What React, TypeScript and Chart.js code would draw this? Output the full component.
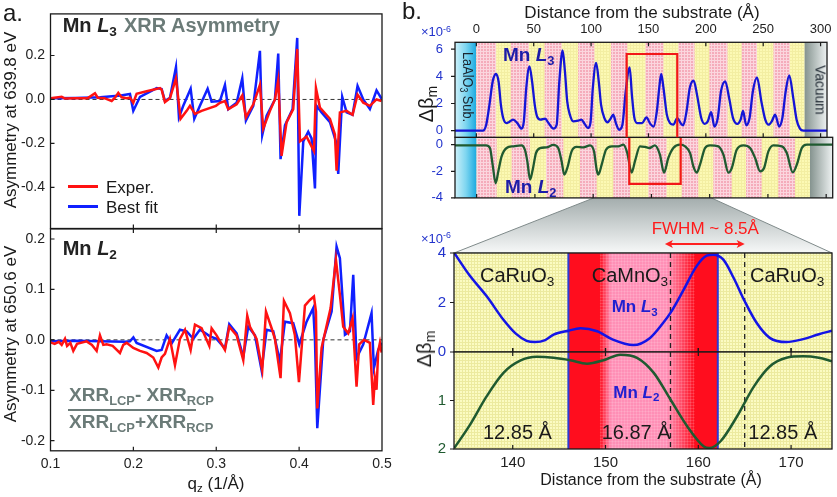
import React, { useEffect, useRef } from "react";
import { Chart, registerables } from "chart.js";

Chart.register(...registerables);

const W = 837;
const H = 497;
const FONT = '"Liberation Sans", Arial, Helvetica, sans-serif';
Chart.defaults.font.family = FONT;

// ---------------- Panel a : XRR asymmetry ----------------
const qTicks = [0.1, 0.2, 0.3, 0.4, 0.5];
const asymL3Ticks = [0.2, 0.0, -0.2, -0.4];
const asymL2Ticks = [0.2, 0.1, 0.0, -0.1, -0.2];

const qL3Exp = [0.1002,0.1135,0.1175,0.13,0.145,0.1537,0.157,0.165,0.1738,0.1778,0.1818,0.1858,0.1919,0.1959,0.1999,0.2039,0.216,0.2321,0.2341,0.2381,0.2441,0.2514,0.257,0.2643,0.2683,0.2743,0.2823,0.2996,0.3045,0.3105,0.3145,0.3246,0.3314,0.3358,0.3447,0.3527,0.3567,0.3648,0.3708,0.3748,0.3788,0.3849,0.3929,0.3977,0.401,0.409,0.4179,0.4203,0.4251,0.4372,0.4432,0.4452,0.4492,0.4573,0.4645,0.4705,0.4774,0.4854,0.4934,0.4995];
const asymL3Exp = [0.005,0.012,0.004,0.006,0.006,0.028,0.008,0.006,-0.007,0.008,0.03,0.01,0.006,0.008,-0.015,0.026,0.037,0.052,0.045,-0.012,0.005,0.096,-0.088,-0.052,-0.029,-0.066,-0.052,-0.029,-0.015,-0.007,-0.044,-0.022,0.018,-0.081,-0.022,0.066,-0.133,-0.052,0.0,0.088,-0.257,-0.103,-0.044,0.23,-0.191,-0.169,-0.235,0.052,-0.037,-0.088,-0.16,-0.324,-0.059,-0.052,-0.07,0.022,-0.015,-0.029,0.0,-0.007];

const qL3Fit = [0.1002,0.13,0.16,0.185,0.1959,0.1999,0.208,0.2281,0.2341,0.2381,0.2441,0.2514,0.255,0.2602,0.2691,0.2735,0.2803,0.2896,0.2944,0.3045,0.3105,0.3145,0.3246,0.3314,0.3358,0.3447,0.3527,0.3555,0.3608,0.3708,0.3748,0.3776,0.3829,0.3921,0.3977,0.4002,0.405,0.411,0.415,0.4191,0.4211,0.4271,0.4372,0.4444,0.4472,0.452,0.4573,0.4645,0.4705,0.4774,0.4854,0.4934,0.4995];
const asymL3Fit = [0.005,0.007,0.01,0.018,0.025,-0.052,0.012,0.052,0.047,-0.007,0.007,0.147,-0.081,-0.029,0.049,-0.088,-0.029,0.049,-0.01,-0.007,0.066,-0.044,-0.015,0.096,-0.096,-0.029,0.221,-0.162,-0.074,0.0,0.209,-0.272,-0.118,-0.044,0.28,-0.53,-0.191,-0.147,-0.177,-0.405,-0.029,-0.059,-0.103,-0.191,-0.339,0.012,-0.059,-0.07,0.062,0.0,-0.044,0.041,0.003];

const qL2Exp = [0.1002,0.105,0.11,0.1135,0.1175,0.12,0.124,0.1275,0.132,0.1436,0.15,0.1557,0.1597,0.1637,0.1677,0.175,0.1838,0.1878,0.1919,0.1999,0.208,0.216,0.224,0.2301,0.2341,0.2381,0.2441,0.2502,0.2562,0.2623,0.2691,0.2743,0.2823,0.2916,0.2944,0.3004,0.3105,0.3157,0.3246,0.3326,0.3374,0.3407,0.3487,0.3555,0.36,0.3668,0.3708,0.3776,0.3817,0.3889,0.3949,0.3998,0.407,0.413,0.4179,0.4203,0.4219,0.4271,0.438,0.4444,0.4492,0.4532,0.4593,0.4645,0.4693,0.4725,0.4782,0.4854,0.4894,0.4914,0.4934,0.4954,0.4975,0.4995];
const asymL2Exp = [-0.005,-0.008,-0.004,-0.01,0.002,-0.012,-0.006,-0.022,-0.008,-0.003,-0.01,-0.022,0.009,-0.01,-0.009,-0.012,-0.026,-0.01,-0.006,-0.016,-0.022,-0.026,-0.035,-0.055,-0.035,-0.028,0.002,-0.05,0.002,0.02,-0.02,0.03,0.023,-0.012,0.023,0.009,-0.02,0.026,0.009,-0.04,0.048,0.026,0.002,-0.06,0.056,0.023,0.002,-0.076,0.077,0.053,0.009,-0.084,0.068,0.079,0.086,0.056,-0.136,-0.016,0.063,0.159,0.089,0.026,0.013,0.043,-0.093,-0.009,0.0,-0.006,-0.129,-0.076,-0.099,-0.023,-0.006,-0.025];

const qL2Fit = [0.1002,0.13,0.16,0.19,0.1959,0.2,0.2039,0.2281,0.2341,0.2401,0.2462,0.2562,0.2643,0.2723,0.2803,0.288,0.2924,0.3004,0.3105,0.3157,0.3246,0.3326,0.3386,0.3467,0.3547,0.3608,0.3688,0.3768,0.3829,0.3929,0.4002,0.409,0.417,0.4191,0.4219,0.4291,0.4392,0.4452,0.4492,0.4553,0.4613,0.4653,0.4693,0.4774,0.4874,0.4902,0.4954,0.4995];
const asymL2Fit = [-0.003,-0.002,-0.003,-0.004,-0.003,0.005,-0.006,-0.022,-0.02,0.009,-0.007,0.02,0.017,0.002,0.02,0.012,0.007,0.002,-0.017,0.031,0.013,-0.033,0.026,0.009,-0.06,0.02,0.017,-0.043,0.036,0.033,-0.009,0.036,0.063,0.0,-0.175,0.0,0.056,0.185,0.162,0.01,0.017,0.129,-0.036,-0.009,0.053,-0.056,-0.02,-0.006];

// ---------------- Panel b (top) : full depth profile ----------------
const depthTicks = [0, 50, 100, 150, 200, 250, 300];
const betaL3Ticks = [0, 2, 4, 6];
const betaL2Ticks = [0, -2, -4];

const depthL3 = [-18.6,0,5.7,8.6,11.4,14.2,17.1,19.4,21.4,23.4,26.3,28.6,32,35.7,39.4,41.4,43.5,46.3,48.6,50.9,52.9,55.8,60,62.9,67.2,70,72.3,75.2,77.2,79.2,81.5,84.4,88.7,91.5,94.4,97.3,99.5,101.5,104.4,106.7,108.7,111.6,114.4,117.3,119.3,121.6,124.4,127.3,130.2,133.6,135.6,137.6,140.2,144.5,148.2,151.6,154.5,157.3,159.4,161.1,163.1,166,168.8,171.7,175.1,178,180.3,183.2,186,189.4,192.3,196,199,201.7,204.6,207.5,210.4,213.2,216.9,220.3,223.7,227.5,230.3,232.4,235.2,238.1,241,244.6,248.4,251.8,254.7,257.5,260.4,263.9,266.7,269.6,272.7,276.2,279.1,282,284.9,305.6];
const betaL3 = [0,0,0,0.44,1.9,3.6,4.17,3.6,1.9,0.93,0.56,0.64,0.81,0.56,0.15,0.69,3.14,4.73,3.6,1.9,1.05,0.81,0.88,0.56,0.15,0.44,3.6,5.9,4.36,2.15,1.18,0.69,0.74,0.81,0.5,0.2,0.6,3.14,4.98,3.6,1.9,0.93,0.62,0.93,1.18,0.56,0.07,0.44,2.9,4.66,2.6,1.0,0.56,0.56,0.98,0.5,0.3,1.43,3.14,4.17,3.14,1.18,0.56,0.44,0.93,0.56,0.4,1.43,3.14,3.68,2.65,0.93,0.5,0.69,1.37,0.31,0.93,2.9,3.63,2.4,0.93,0.5,0.81,1.45,0.4,0.93,2.9,3.92,2.15,0.81,0.44,0.69,1.18,0.31,0.93,2.9,4.07,2.4,0.81,0.15,0,0];

const depthL2 = [-18.6,8,11.4,13.7,16.3,18.6,21.4,25.7,31.4,38.6,41.4,43.5,45.8,48.1,50.9,54.4,60,65.7,70,72.9,75.2,77.8,81.5,85.8,91.5,97.3,100.7,103,104.4,107.3,111,115.9,121.6,125.9,129.3,133,136,140.2,144.5,148.2,153,157.3,160.8,164.5,168.8,174.5,178.9,183.2,186,188.9,191.7,196,200.3,207.5,211.8,216.1,219,223.2,229,234.7,239,243.3,246.7,250.4,254.7,261.9,266.2,271.3,274.8,279.1,283.4,305.6];
const betaL2 = [-0.05,-0.05,-0.25,-1.5,-2.9,-2.0,-0.88,-0.25,-0.12,-0.05,-0.38,-1.25,-2.63,-1.88,-0.63,-0.25,-0.2,-0.02,-0.25,-1.25,-2.25,-1.75,-0.5,-0.17,-0.2,-0.05,-0.5,-1.88,-2.25,-1.5,-0.38,-0.12,-0.12,0,-0.63,-2.1,-1.2,-0.12,-0.17,-0.25,-0.05,-0.75,-2.1,-1.0,-0.25,0,-0.12,-0.63,-1.63,-2.1,-1.5,-0.25,-0.05,-0.12,-0.75,-2.1,-1.75,-0.38,-0.05,-0.25,-1.0,-2.0,-1.75,-0.5,-0.05,-0.12,-0.63,-2.08,-1.5,-0.25,0,0];

// layer boundaries (Å)
const cmoStart = [0, 30.0, 59.5, 88.7, 117.3, 147.3, 176.0, 203.1, 231.2, 258.9];
const cmoEnd = [17.2, 45.8, 74.4, 103.0, 131.6, 163.1, 190.2, 218.9, 244.6, 273.2];
const filmTop = 286.1;
const depthRange = [-18.6, 305.6];
const zoomWindow = [131.0, 175.1];
const zoomWindowL3Top = 5.64;
const zoomWindowL2Bottom = -2.95;

// ---------------- Panel b (bottom) : zoom ----------------
const zoomDepthTicks = [140, 150, 160, 170];
const zoomL3Ticks = [0, 2, 4];
const zoomL2Ticks = [1, 2];
const zoomRange = [133.67, 174.41];

const zDepthL3 = [133.7,135.3,137.2,139.0,140.3,141.5,142.4,143.5,144.4,146.0,147.3,149.1,150.8,153.0,154.8,156.2,157.0,158.4,159.8,160.9,161.6,162.7,163.8,165.0,166.3,167.7,169.5,171.3,173.0,174.4];
const zBetaL3 = [4.0,3.12,2.25,1.3,0.75,0.45,0.4,0.48,0.7,0.86,0.96,0.84,0.5,0.28,0.57,1.17,1.58,2.5,3.46,3.89,3.93,3.73,3.0,2.05,1.17,0.57,0.4,0.52,0.72,0.86];
const zDepthL2 = [133.7,135.3,137.2,139.0,140.8,142.6,144.4,146.2,148.0,149.8,151.6,153.4,155.2,157.0,158.8,160.6,161.2,162.4,164.2,166.0,167.7,169.5,171.3,173.0,174.4];
const zBetaL2 = [1.98,1.53,0.91,0.43,0.18,0.10,0.12,0.17,0.24,0.17,0.055,0.12,0.43,0.98,1.53,1.95,1.98,1.84,1.32,0.71,0.30,0.12,0.09,0.12,0.19];

const zCmo = [146.0, 162.1];
const zCmoRed = [149.4, 159.6];
const zCmoPink = [150.6, 156.6];
const fwhmMarks = [157.0, 165.0];
const fwhmArrow = [156.4, 165.0];

// ---------------- helpers ----------------
const pts = (xs: number[], ys: number[]) => xs.map((x, i) => ({ x, y: ys[i] }));

type Edge = { edge: "top" | "bottom"; dir: "in" | "out" | "both" };
type FrameOpt = { xTicks: number[]; xEdges: Edge[]; yTicks: number[]; yDir: "in" | "out"; len: number; lw?: number };

function drawFrame(chart: any, o: FrameOpt) {
  const { ctx, chartArea: a, scales } = chart;
  const x = scales.x, y = scales.y;
  ctx.save();
  ctx.strokeStyle = "#1a1a1a";
  ctx.lineWidth = o.lw ?? 1.3;
  ctx.strokeRect(a.left, a.top, a.right - a.left, a.bottom - a.top);
  ctx.lineWidth = 1.2;
  ctx.beginPath();
  for (const v of o.xTicks) {
    const px = x.getPixelForValue(v);
    for (const e of o.xEdges) {
      const y0 = e.edge === "top" ? a.top : a.bottom;
      const inward = e.edge === "top" ? 1 : -1;
      const from = e.dir === "in" ? y0 : y0 - inward * o.len;
      const to = e.dir === "out" ? y0 : y0 + inward * o.len;
      ctx.moveTo(px, from);
      ctx.lineTo(px, to);
    }
  }
  for (const v of o.yTicks) {
    const py = y.getPixelForValue(v);
    ctx.moveTo(a.left, py);
    ctx.lineTo(a.left + (o.yDir === "in" ? o.len : -o.len), py);
  }
  ctx.stroke();
  ctx.restore();
}

function patternCanvas(base: string, line: string, step = 3) {
  const c = document.createElement("canvas");
  c.width = step;
  c.height = step;
  const g = c.getContext("2d")!;
  g.fillStyle = base;
  g.fillRect(0, 0, step, step);
  g.fillStyle = line;
  g.fillRect(0, 0, step, 1);
  g.fillRect(0, 0, 1, step);
  return c;
}

type AxisCfg = {
  min: number; max: number; ticks: number[]; labels?: boolean; font?: number; color?: string;
  pad?: number; fmt?: (v: number) => string; reverse?: boolean;
};
type Cfg = {
  area: { l: number; t: number; r: number; b: number };
  x: AxisCfg & { pos: "top" | "bottom"; size: number };
  y: AxisCfg;
  datasets: any[];
  plugins: any[];
};

function build(canvas: HTMLCanvasElement, c: Cfg) {
  const xTop = c.x.pos === "top";
  const setTicks = (vals: number[]) => (s: any) => {
    s.ticks = vals.map((v) => ({ value: v }));
  };
  const tickOpts = (a: AxisCfg, dflt: number) => ({
    display: !!a.labels,
    font: { size: a.font ?? dflt, family: FONT },
    color: a.color ?? "#222",
    padding: a.pad ?? 5,
    maxRotation: 0,
    autoSkip: false,
    callback: (v: any) => (a.fmt ? a.fmt(Number(v)) : String(v)),
  });
  return new Chart(canvas, {
    type: "line",
    data: { datasets: c.datasets },
    options: {
      animation: false,
      responsive: false,
      maintainAspectRatio: false,
      events: [],
      layout: {
        padding: {
          left: 0,
          right: W - c.area.r,
          top: xTop ? 0 : c.area.t,
          bottom: xTop ? H - c.area.b : H - c.area.b - c.x.size,
        },
      },
      plugins: { legend: { display: false }, tooltip: { enabled: false } },
      scales: {
        x: {
          type: "linear",
          position: c.x.pos,
          min: c.x.min,
          max: c.x.max,
          bounds: "data",
          grid: { display: false, drawTicks: false },
          border: { display: false },
          ticks: tickOpts(c.x, 14),
          afterBuildTicks: setTicks(c.x.ticks),
          afterFit: (s: any) => {
            s.height = xTop ? c.area.t : c.x.size;
          },
        },
        y: {
          type: "linear",
          position: "left",
          min: c.y.min,
          max: c.y.max,
          reverse: !!c.y.reverse,
          bounds: "data",
          grid: { display: false, drawTicks: false },
          border: { display: false },
          ticks: tickOpts(c.y, 14),
          afterBuildTicks: setTicks(c.y.ticks),
          afterFit: (s: any) => {
            s.width = c.area.l;
          },
        },
      },
    } as any,
    plugins: c.plugins,
  });
}

const line = (data: any[], color: string, width: number, smooth = false, extra: any = {}) => ({
  data,
  borderColor: color,
  borderWidth: width,
  pointRadius: 0,
  fill: false,
  tension: smooth ? 0.4 : 0,
  cubicInterpolationMode: smooth ? "monotone" : "default",
  ...extra,
});

// ---------------- text helpers ----------------
const Sub = ({ children, s = 0.68 }: any) => (
  <span style={{ fontSize: `${s}em`, position: "relative", top: "0.3em" }}>{children}</span>
);
const Sup = ({ children, s = 0.68 }: any) => (
  <span style={{ fontSize: `${s}em`, position: "relative", top: "-0.5em" }}>{children}</span>
);
const Txt = ({ x, y, size, children, bold, color, anchor, style }: any) => (
  <div
    style={{
      position: "absolute",
      left: x,
      top: y - 0.846 * size,
      fontSize: size,
      lineHeight: `${size}px`,
      fontFamily: FONT,
      fontWeight: bold ? 700 : 400,
      color: color ?? "#1a1a1a",
      whiteSpace: "nowrap",
      transform: anchor === "middle" ? "translateX(-50%)" : undefined,
      ...style,
    }}
  >
    {children}
  </div>
);
const Rot = ({ cx, cy, size, angle, children, color, scaleX = 1, bold }: any) => (
  <div
    style={{
      position: "absolute",
      left: cx,
      top: cy,
      fontSize: size,
      lineHeight: `${size}px`,
      fontFamily: FONT,
      fontWeight: bold ? 700 : 400,
      color: color ?? "#1a1a1a",
      whiteSpace: "nowrap",
      transform: `translate(-50%,-50%) rotate(${angle}deg) scaleX(${scaleX})`,
    }}
  >
    {children}
  </div>
);

const GRAY = "#6b7b78";
const BLUE_TXT = "#1c1ca8";
const TICK_BLUE = "#2233cc";
const GREEN = "#1f5a30";
const RED = "#ff1212";
const BLUE = "#1020ff";

export default function App() {
  const a1 = useRef<HTMLCanvasElement>(null);
  const a2 = useRef<HTMLCanvasElement>(null);
  const b1a = useRef<HTMLCanvasElement>(null);
  const b1b = useRef<HTMLCanvasElement>(null);
  const b2a = useRef<HTMLCanvasElement>(null);
  const b2b = useRef<HTMLCanvasElement>(null);

  useEffect(() => {
    const charts: Chart[] = [];
    const fmt1 = (v: number) => v.toFixed(1);
    const zeroLine = (xs: number[]) =>
      line([{ x: xs[0], y: 0 }, { x: xs[xs.length - 1], y: 0 }], "#333", 1, false, { borderDash: [4, 3] });

    // ---- panel a top ----
    charts.push(
      build(a1.current!, {
        area: { l: 50.5, t: 7, r: 382, b: 228.5 },
        x: { pos: "bottom", size: 0, min: 0.1, max: 0.5, ticks: qTicks },
        y: { min: -0.5876, max: 0.3895, ticks: asymL3Ticks, labels: true, font: 14, pad: 5.5, fmt: fmt1 },
        datasets: [
          line(pts(qL3Exp, asymL3Exp), RED, 2.5),
          line(pts(qL3Fit, asymL3Fit), BLUE, 2.5),
          zeroLine(qTicks),
        ],
        plugins: [
          {
            id: "frameA1",
            afterDraw: (ch: any) =>
              drawFrame(ch, { xTicks: [0.2, 0.3, 0.4], xEdges: [{ edge: "bottom", dir: "in" }], yTicks: asymL3Ticks, yDir: "in", len: 4 }),
          },
        ],
      })
    );

    // ---- panel a bottom ----
    charts.push(
      build(a2.current!, {
        area: { l: 50.5, t: 228.9, r: 382, b: 450.8 },
        x: { pos: "bottom", size: 24, min: 0.1, max: 0.5, ticks: qTicks, labels: true, font: 14, pad: 5, fmt: fmt1 },
        y: { min: -0.22, max: 0.22, ticks: asymL2Ticks, labels: true, font: 14, pad: 5.5, fmt: fmt1 },
        datasets: [
          line(pts(qL2Exp, asymL2Exp), RED, 2.5),
          line(pts(qL2Fit, asymL2Fit), BLUE, 2.5),
          zeroLine(qTicks),
        ],
        plugins: [
          {
            id: "frameA2",
            afterDraw: (ch: any) =>
              drawFrame(ch, {
                xTicks: [0.2, 0.3, 0.4],
                xEdges: [{ edge: "bottom", dir: "in" }, { edge: "top", dir: "in" }],
                yTicks: asymL2Ticks,
                yDir: "in",
                len: 4,
              }),
          },
        ],
      })
    );

    // ---- panel b top backgrounds ----
    const pinkC = patternCanvas("#f5acbb", "#fbd6de");
    const yellowC = patternCanvas("#fcf9b4", "#f3eea2");
    const bgTop = (ch: any) => {
      const { ctx, chartArea: a, scales } = ch;
      const px = (v: number) => scales.x.getPixelForValue(v);
      ctx.save();
      ctx.beginPath();
      ctx.rect(a.left, a.top, a.right - a.left, a.bottom - a.top);
      ctx.clip();
      let g = ctx.createLinearGradient(a.left, 0, px(0), 0);
      g.addColorStop(0, "#cdf1fa");
      g.addColorStop(0.5, "#7fd6f0");
      g.addColorStop(1, "#19a9e0");
      ctx.fillStyle = g;
      ctx.fillRect(a.left, a.top, px(0) - a.left, a.bottom - a.top);
      ctx.fillStyle = ctx.createPattern(yellowC, "repeat");
      ctx.fillRect(px(0), a.top, px(filmTop) - px(0), a.bottom - a.top);
      ctx.fillStyle = ctx.createPattern(pinkC, "repeat");
      cmoStart.forEach((s, i) => {
        ctx.fillRect(px(s), a.top, px(cmoEnd[i]) - px(s), a.bottom - a.top);
      });
      g = ctx.createLinearGradient(px(filmTop), 0, a.right, 0);
      g.addColorStop(0, "#85938f");
      g.addColorStop(1, "#eef2f2");
      ctx.fillStyle = g;
      ctx.fillRect(px(filmTop), a.top, a.right - px(filmTop), a.bottom - a.top);
      ctx.restore();
    };

    const b1aChart = build(b1a.current!, {
      area: { l: 455, t: 42.3, r: 832.7, b: 137.3 },
      x: { pos: "top", size: 42.3, min: depthRange[0], max: depthRange[1], ticks: depthTicks, labels: true, font: 13, pad: 5.5 },
      y: { min: -0.485, max: 6.5, ticks: betaL3Ticks, labels: true, font: 13, pad: 12, color: TICK_BLUE },
      datasets: [line(pts(depthL3, betaL3), "#1515d6", 2.3, true)],
      plugins: [
        {
          id: "b1aDeco",
          beforeDatasetsDraw: bgTop,
          afterDraw: (ch: any) => {
            drawFrame(ch, {
              xTicks: depthTicks,
              xEdges: [{ edge: "top", dir: "in" }, { edge: "bottom", dir: "in" }],
              yTicks: betaL3Ticks,
              yDir: "out",
              len: 4,
            });
            const { ctx, chartArea: a, scales } = ch;
            const x1 = scales.x.getPixelForValue(zoomWindow[0]);
            const x2 = scales.x.getPixelForValue(zoomWindow[1]);
            const yt = scales.y.getPixelForValue(zoomWindowL3Top);
            ctx.save();
            ctx.strokeStyle = "#f21818";
            ctx.lineWidth = 2.2;
            ctx.beginPath();
            ctx.moveTo(x1, a.bottom);
            ctx.lineTo(x1, yt);
            ctx.lineTo(x2, yt);
            ctx.lineTo(x2, a.bottom);
            ctx.stroke();
            ctx.restore();
          },
        },
      ],
    });

    const b1bChart = build(b1b.current!, {
      area: { l: 455, t: 137.3, r: 832.7, b: 197.9 },
      x: { pos: "bottom", size: 0, min: depthRange[0], max: depthRange[1], ticks: depthTicks },
      y: { min: -4, max: 0.556, ticks: betaL2Ticks, labels: true, font: 13, pad: 12, color: TICK_BLUE },
      datasets: [line(pts(depthL2, betaL2), GREEN, 2.3, true)],
      plugins: [
        {
          id: "b1bDeco",
          beforeDatasetsDraw: bgTop,
          afterDraw: (ch: any) => {
            drawFrame(ch, {
              xTicks: depthTicks,
              xEdges: [{ edge: "bottom", dir: "in" }],
              yTicks: betaL2Ticks,
              yDir: "out",
              len: 4,
            });
            const { ctx, chartArea: a, scales } = ch;
            const x1 = scales.x.getPixelForValue(zoomWindow[0]);
            const x2 = scales.x.getPixelForValue(zoomWindow[1]);
            const yb = scales.y.getPixelForValue(zoomWindowL2Bottom);
            ctx.save();
            ctx.strokeStyle = "#f21818";
            ctx.lineWidth = 2.2;
            ctx.beginPath();
            ctx.moveTo(x1, a.top);
            ctx.lineTo(x1, yb);
            ctx.lineTo(x2, yb);
            ctx.lineTo(x2, a.top);
            ctx.stroke();
            ctx.restore();
          },
        },
      ],
    });
    charts.push(b1aChart, b1bChart);

    // ---- panel b bottom ----
    const yellowZ = patternCanvas("#fbfbc2", "#ecea9f");
    const pinkTex = patternCanvas("rgba(0,0,0,0)", "rgba(255,255,255,0.13)");
    const bgZoom = (ch: any) => {
      const { ctx, chartArea: a, scales } = ch;
      const px = (v: number) => scales.x.getPixelForValue(v);
      const h = a.bottom - a.top;
      ctx.save();
      ctx.beginPath();
      ctx.rect(a.left, a.top, a.right - a.left, h);
      ctx.clip();
      ctx.fillStyle = ctx.createPattern(yellowZ, "repeat");
      ctx.fillRect(a.left, a.top, a.right - a.left, h);
      const x0 = px(zCmo[0]);
      const x1 = px(zCmo[1]);
      const span = zCmo[1] - zCmo[0];
      const g = ctx.createLinearGradient(x0, 0, x1, 0);
      const red = "#ff0d1e";
      const pink = "#ff8fb6";
      g.addColorStop(0, red);
      g.addColorStop((zCmoRed[0] - zCmo[0]) / span, red);
      g.addColorStop((zCmoPink[0] - zCmo[0]) / span, pink);
      g.addColorStop((zCmoPink[1] - zCmo[0]) / span, pink);
      g.addColorStop((zCmoRed[1] - zCmo[0]) / span, red);
      g.addColorStop(1, red);
      ctx.fillStyle = g;
      ctx.fillRect(x0, a.top, x1 - x0, h);
      ctx.fillStyle = ctx.createPattern(pinkTex, "repeat");
      ctx.fillRect(px(zCmoRed[0]), a.top, px(zCmoRed[1]) - px(zCmoRed[0]), h);
      ctx.strokeStyle = "#2a3ad8";
      ctx.lineWidth = 2;
      ctx.beginPath();
      for (const v of zCmo) {
        ctx.moveTo(px(v), a.top);
        ctx.lineTo(px(v), a.bottom);
      }
      ctx.stroke();
      ctx.strokeStyle = "#222";
      ctx.lineWidth = 1.3;
      ctx.setLineDash([5, 4]);
      ctx.beginPath();
      for (const v of fwhmMarks) {
        ctx.moveTo(px(v), a.top);
        ctx.lineTo(px(v), a.bottom);
      }
      ctx.stroke();
      ctx.restore();
    };

    const b2aChart = build(b2a.current!, {
      area: { l: 454, t: 253, r: 832, b: 352 },
      x: { pos: "bottom", size: 0, min: zoomRange[0], max: zoomRange[1], ticks: zoomDepthTicks },
      y: { min: 0, max: 4, ticks: zoomL3Ticks, labels: true, font: 15, pad: 8, color: TICK_BLUE },
      datasets: [line(pts(zDepthL3, zBetaL3), "#1414e6", 2.5, true)],
      plugins: [
        {
          id: "b2aDeco",
          beforeDraw: (ch: any) => {
            const { ctx, chartArea: a } = ch;
            const xs = b1bChart.scales.x as any;
            const ys = b1bChart.scales.y as any;
            const tx1 = xs.getPixelForValue(zoomWindow[0]);
            const tx2 = xs.getPixelForValue(zoomWindow[1]);
            const ty = ys.getPixelForValue(zoomWindowL2Bottom);
            ctx.save();
            ctx.beginPath();
            ctx.moveTo(tx1, ty);
            ctx.lineTo(tx2, ty);
            ctx.lineTo(a.right, a.top);
            ctx.lineTo(a.left, a.top);
            ctx.closePath();
            const g = ctx.createLinearGradient(0, ty, 0, a.top);
            g.addColorStop(0, "#8f9a9a");
            g.addColorStop(1, "#f6f8f8");
            ctx.fillStyle = g;
            ctx.fill();
            ctx.strokeStyle = "#7f8a8a";
            ctx.lineWidth = 1;
            ctx.stroke();
            ctx.restore();
          },
          beforeDatasetsDraw: bgZoom,
          afterDraw: (ch: any) => {
            drawFrame(ch, {
              xTicks: zoomDepthTicks,
              xEdges: [{ edge: "bottom", dir: "in" }],
              yTicks: zoomL3Ticks,
              yDir: "out",
              len: 4,
            });
            const { ctx, chartArea: a, scales } = ch;
            const xa = scales.x.getPixelForValue(fwhmArrow[0]);
            const xb = scales.x.getPixelForValue(fwhmArrow[1]);
            const yy = a.top - 9;
            ctx.save();
            ctx.strokeStyle = "#ff2020";
            ctx.fillStyle = "#ff2020";
            ctx.lineWidth = 1.8;
            ctx.beginPath();
            ctx.moveTo(xa + 3, yy);
            ctx.lineTo(xb - 3, yy);
            ctx.stroke();
            ctx.beginPath();
            ctx.moveTo(xa, yy);
            ctx.lineTo(xa + 8, yy - 4);
            ctx.lineTo(xa + 6, yy);
            ctx.lineTo(xa + 8, yy + 4);
            ctx.closePath();
            ctx.moveTo(xb, yy);
            ctx.lineTo(xb - 8, yy - 4);
            ctx.lineTo(xb - 6, yy);
            ctx.lineTo(xb - 8, yy + 4);
            ctx.closePath();
            ctx.fill();
            ctx.restore();
          },
        },
      ],
    });

    const b2bChart = build(b2b.current!, {
      area: { l: 454, t: 352, r: 832, b: 449 },
      x: { pos: "bottom", size: 24, min: zoomRange[0], max: zoomRange[1], ticks: zoomDepthTicks, labels: true, font: 15, pad: 5 },
      y: { min: 0, max: 2, reverse: true, ticks: zoomL2Ticks, labels: true, font: 15, pad: 8, color: GREEN },
      datasets: [line(pts(zDepthL2, zBetaL2), GREEN, 2.5, true)],
      plugins: [
        {
          id: "b2bDeco",
          beforeDatasetsDraw: bgZoom,
          afterDraw: (ch: any) =>
            drawFrame(ch, {
              xTicks: zoomDepthTicks,
              xEdges: [{ edge: "bottom", dir: "in" }, { edge: "top", dir: "both" }],
              yTicks: zoomL2Ticks,
              yDir: "out",
              len: 4,
            }),
        },
      ],
    });
    charts.push(b2aChart, b2bChart);

    return () => charts.forEach((c) => c.destroy());
  }, []);

  const cv = (r: any) => (
    <canvas ref={r} width={W} height={H} style={{ position: "absolute", left: 0, top: 0, width: W, height: H }} />
  );

  return (
    <div style={{ position: "absolute", left: 0, top: 0, width: W, height: H, background: "#fff", overflow: "hidden", fontFamily: FONT }}>
      {cv(a1)}
      {cv(a2)}
      {cv(b2a)}
      {cv(b2b)}
      {cv(b1b)}
      {cv(b1a)}

      {/* panel labels */}
      <Txt x={3} y={21} size={24}>a.</Txt>
      <Txt x={402} y={19} size={24}>b.</Txt>

      {/* panel a texts */}
      <Txt x={62.7} y={31.7} size={20} bold color="#222">
        Mn <i>L</i><Sub>3</Sub>
        <span style={{ color: GRAY, marginLeft: 7 }}>XRR Asymmetry</span>
      </Txt>
      <Txt x={62.7} y={254.7} size={20} bold color="#222">
        Mn <i>L</i><Sub>2</Sub>
      </Txt>
      <div style={{ position: "absolute", left: 68, top: 185.3, width: 30, height: 3, background: RED }} />
      <div style={{ position: "absolute", left: 68, top: 205.3, width: 30, height: 3, background: BLUE }} />
      <Txt x={106} y={193} size={17}>Exper.</Txt>
      <Txt x={106} y={213} size={17}>Best fit</Txt>

      <Txt x={69} y={401} size={19} bold color={GRAY}>
        XRR<Sub>LCP</Sub>- XRR<Sub>RCP</Sub>
      </Txt>
      <div style={{ position: "absolute", left: 68, top: 408.8, width: 128, height: 1.8, background: GRAY }} />
      <Txt x={69} y={428.5} size={19} bold color={GRAY}>
        XRR<Sub>LCP</Sub>+XRR<Sub>RCP</Sub>
      </Txt>

      <Rot cx={10} cy={120} size={17} angle={-90}>Asymmetry at 639.8 eV</Rot>
      <Rot cx={10} cy={334} size={17} angle={-90}>Asymmetry at 650.6 eV</Rot>
      <Txt x={216} y={489} size={17} anchor="middle">
        q<Sub>z</Sub> (1/Å)
      </Txt>

      {/* panel b top texts */}
      <Txt x={642} y={18} size={17} anchor="middle">Distance from the substrate (Å)</Txt>
      <Txt x={421} y={36} size={13} color={TICK_BLUE}>
        ×10<Sup>-6</Sup>
      </Txt>
      <Rot cx={427} cy={104} size={20} angle={-90}>
        Δβ<Sub s={0.7}>m</Sub>
      </Rot>
      <Txt x={503} y={60.7} size={19} bold color={BLUE_TXT}>
        Mn <i>L</i><Sub>3</Sub>
      </Txt>
      <Txt x={505} y={193} size={19} bold color={BLUE_TXT}>
        Mn <i>L</i><Sub>2</Sub>
      </Txt>
      <Rot cx={466.5} cy={87} size={15} angle={90} scaleX={0.85} color="#1c2630">
        LaAlO<Sub>3</Sub> Sub.
      </Rot>
      <Rot cx={821} cy={90} size={15} angle={90} scaleX={0.92} color="#1c2630">
        Vacuum
      </Rot>

      {/* panel b bottom texts */}
      <Txt x={421} y={242.7} size={13} color={TICK_BLUE}>
        ×10<Sup>-6</Sup>
      </Txt>
      <Rot cx={425} cy={349} size={20} angle={-90}>
        Δβ<Sub s={0.7}>m</Sub>
      </Rot>
      <Txt x={651.7} y={234.3} size={17} color="#ff1a1a">FWHM ~ 8.5Å</Txt>
      <Txt x={480} y={281.7} size={20}>
        CaRuO<Sub>3</Sub>
      </Txt>
      <Txt x={591.7} y={281.7} size={20}>
        CaMnO<Sub>3</Sub>
      </Txt>
      <Txt x={750} y={281.7} size={20}>
        CaRuO<Sub>3</Sub>
      </Txt>
      <Txt x={611.7} y={312.7} size={17} bold color="#2020d0">
        Mn <i>L</i><Sub>3</Sub>
      </Txt>
      <Txt x={613.3} y={398.3} size={17} bold color="#2020d0">
        Mn <i>L</i><Sub>2</Sub>
      </Txt>
      <Txt x={483} y={439.3} size={20}>12.85 Å</Txt>
      <Txt x={601.7} y={439.3} size={20}>16.87 Å</Txt>
      <Txt x={748.3} y={439.3} size={20}>12.85 Å</Txt>
      <Txt x={651} y={486} size={16} anchor="middle">Distance from the substrate (Å)</Txt>
    </div>
  );
}
